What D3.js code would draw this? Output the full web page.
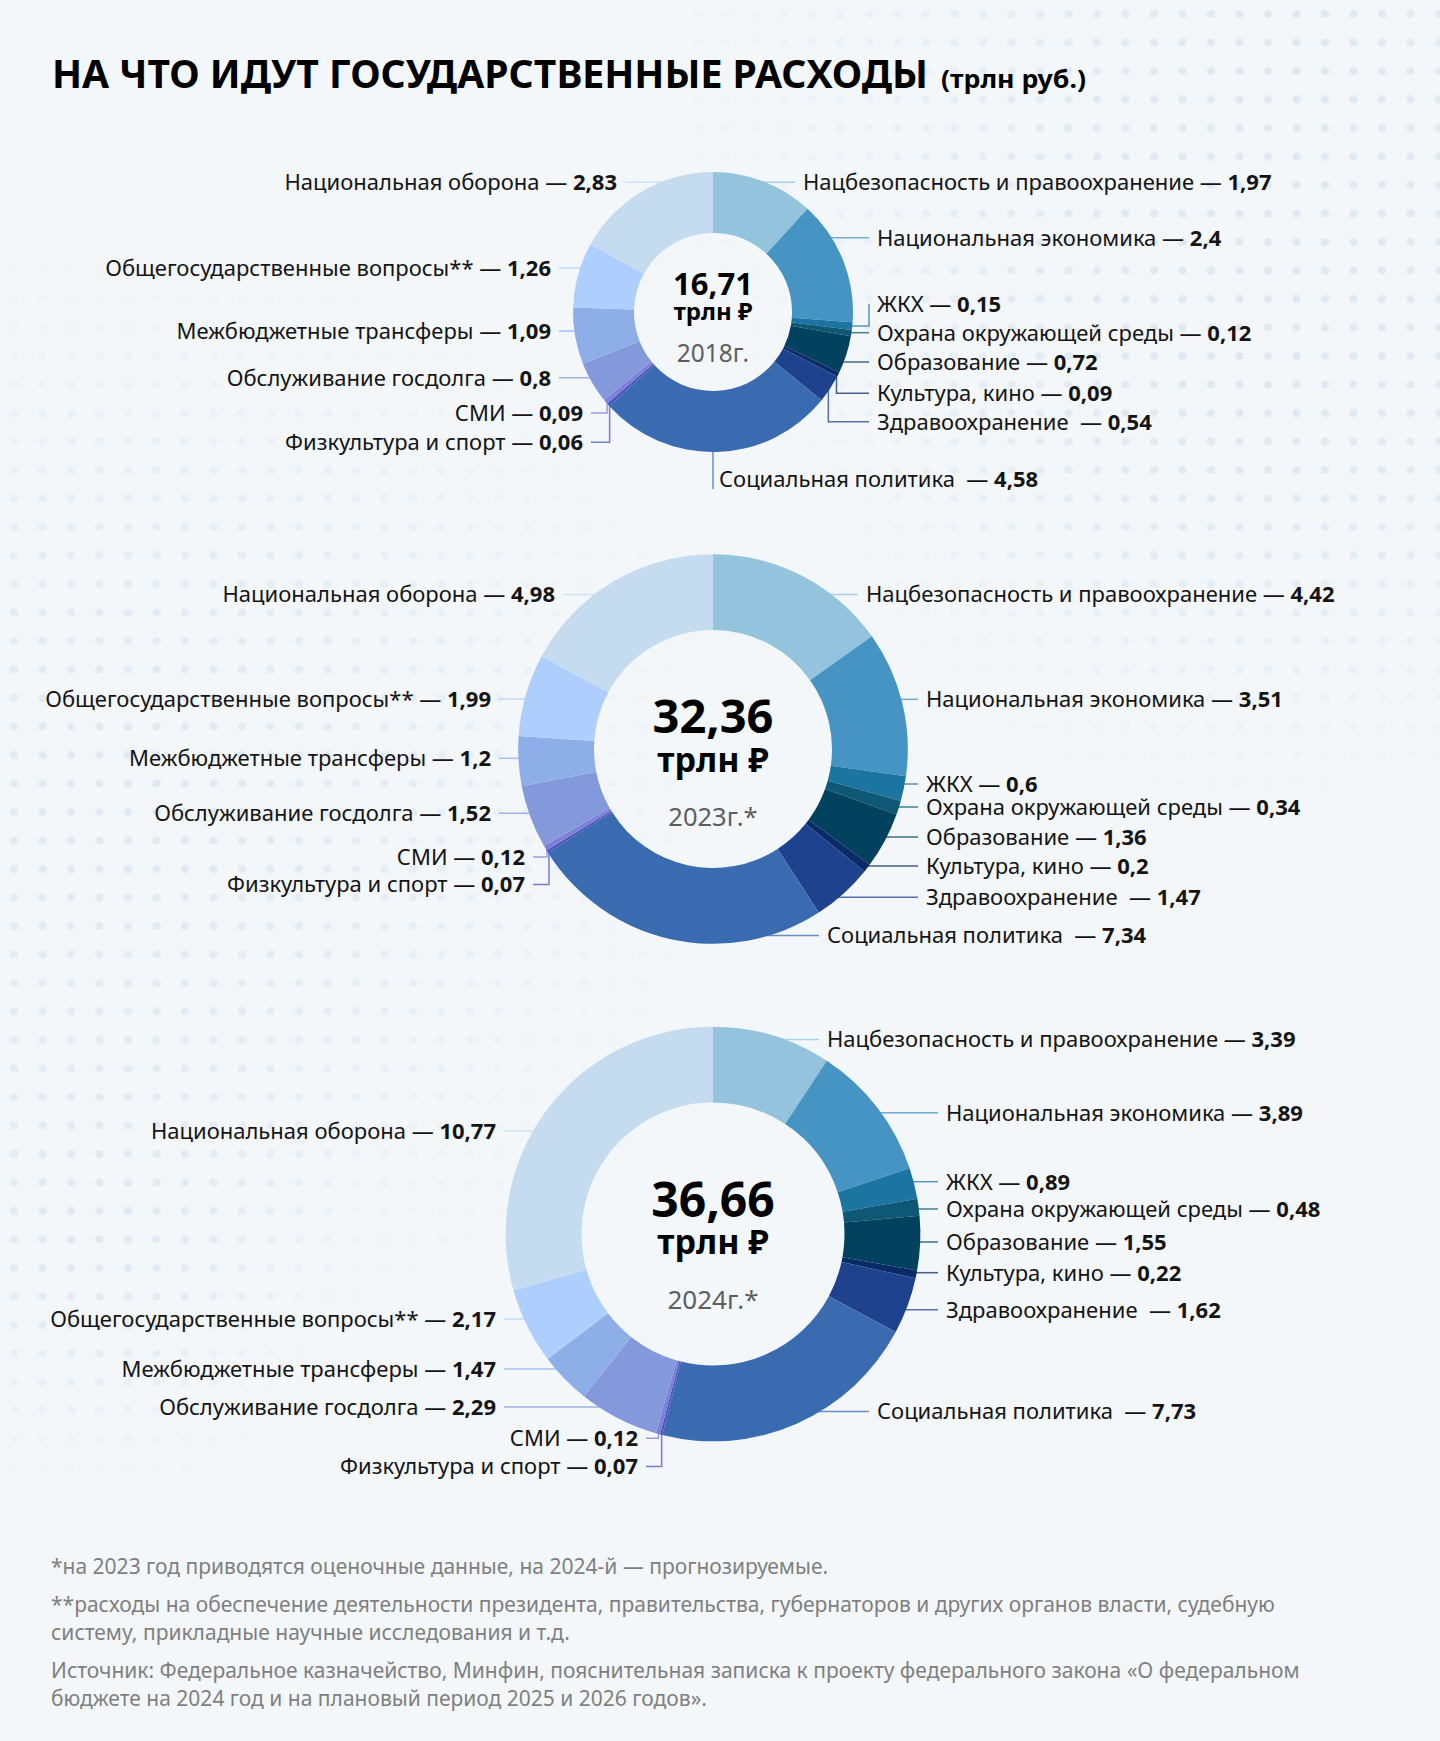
<!DOCTYPE html>
<html><head><meta charset="utf-8">
<script src="https://cdn.jsdelivr.net/npm/d3@7"></script>
<style>
html,body{margin:0;padding:0;background:#f3f7fa;}
svg{display:block;font-family:"Noto Sans","Open Sans",sans-serif;}
text{white-space:pre;}
</style></head><body>
<svg id="chart" width="1440" height="1741"></svg>
<script>
// ---------- DATA ----------
const categories = [
  "Нацбезопасность и правоохранение",
  "Национальная экономика",
  "ЖКХ",
  "Охрана окружающей среды",
  "Образование",
  "Культура, кино",
  "Здравоохранение ",
  "Социальная политика ",
  "Физкультура и спорт",
  "СМИ",
  "Обслуживание госдолга",
  "Межбюджетные трансферы",
  "Общегосударственные вопросы**",
  "Национальная оборона"
];
const values2018 = [1.97, 2.4, 0.15, 0.12, 0.72, 0.09, 0.54, 4.58, 0.06, 0.09, 0.8, 1.09, 1.26, 2.83];
const values2023 = [4.42, 3.51, 0.6, 0.34, 1.36, 0.2, 1.47, 7.34, 0.07, 0.12, 1.52, 1.2, 1.99, 4.98];
const values2024 = [3.39, 3.89, 0.89, 0.48, 1.55, 0.22, 1.62, 7.73, 0.07, 0.12, 2.29, 1.47, 2.17, 10.77];
const totals = [16.71, 32.36, 36.66];
const totalLabels = ["16,71", "32,36", "36,66"];
const yearLabels = ["2018г.", "2023г.*", "2024г.*"];
const unitLabel = "трлн ₽";
const colors = ["#94c4dd","#4594c4","#1c74a1","#0e5775","#02425e","#0a2b66","#1f428e",
                "#3a6bb1","#4b55c0","#7c80d6","#8499dc","#8eaee8","#aecffd","#c5dcf0"];
const titleMain = "НА ЧТО ИДУТ ГОСУДАРСТВЕННЫЕ РАСХОДЫ";
const titleUnit = "(трлн руб.)";
const footnotes = [
  ["*на 2023 год приводятся оценочные данные, на 2024-й — прогнозируемые."],
  ["**расходы на обеспечение деятельности президента, правительства, губернаторов и других органов власти, судебную",
   "систему, прикладные научные исследования и т.д."],
  ["Источник: Федеральное казначейство, Минфин, пояснительная записка к проекту федерального закона «О федеральном",
   "бюджете на 2024 год и на плановый период 2025 и 2026 годов»."]
];

// ---------- LAYOUT ----------
const W = 1440, H = 1741;
const charts = [
  { values: values2018, cx: 713, cy: 312, inner: 79,
    center: { num: [31, 295], unit: [24, 320], year: [24.5, 362] },
    labels: [
      ["r",182.3,803,"h"],["r",237.7,877,"h"],["r",304,877,"hv"],["r",332.7,877,"h"],
      ["r",362,877,"h"],["r",393.3,877,"vh"],["r",421.7,877,"vh"],["r",479,719,"v"],
      ["l",442.3,583,"vh"],["l",413,583,"vh"],["l",377.7,551,"h"],["l",331,551,"h"],
      ["l",268,551,"h"],["l",182.3,617,"h"]] },
  { values: values2023, cx: 713, cy: 749, inner: 119,
    center: { num: [47, 733], unit: [34, 772], year: [25.5, 826] },
    labels: [
      ["r",594.5,866,"h"],["r",699.3,926,"h"],["r",784,926,"h"],["r",807,926,"h"],
      ["r",837,926,"h"],["r",866,926,"h"],["r",897.3,926,"h"],["r",935.5,827,"h"],
      ["l",884.5,525,"vh"],["l",857,525,"vh"],["l",813.3,491,"h"],["l",758.3,491,"h"],
      ["l",699,491,"h"],["l",594.5,555,"h"]] },
  { values: values2024, cx: 713, cy: 1234, inner: 131.5,
    center: { num: [48, 1217], unit: [34, 1254], year: [26, 1309] },
    labels: [
      ["r",1039.5,827,"h"],["r",1112.7,946,"h"],["r",1181.7,946,"h"],["r",1209,946,"h"],
      ["r",1242,946,"h"],["r",1272.7,946,"h"],["r",1309.8,946,"h"],["r",1411.5,877,"h"],
      ["l",1466.5,638,"vh"],["l",1438.3,638,"vh"],["l",1407,496,"h"],["l",1369,496,"h"],
      ["l",1319,496,"h"],["l",1131,496,"h"]] }
];

const svg = d3.select("#chart");
const defs = svg.append("defs");

// background with faint dot grid
svg.append("rect").attr("width", W).attr("height", H).attr("fill", "#f3f7fa");
const pat = defs.append("pattern").attr("id","dots").attr("patternUnits","userSpaceOnUse")
  .attr("width",28.5).attr("height",28.5).attr("x",0).attr("y",0);
pat.append("circle").attr("cx",14).attr("cy",14).attr("r",4).attr("fill","#dfe8f2");
const gspots = [[1300,60,640],[150,800,560],[1250,380,430],[100,1230,260]];
const mask = defs.append("mask").attr("id","dmask");
gspots.forEach((g,i)=>{
  const rg = defs.append("radialGradient").attr("id","rg"+i);
  rg.append("stop").attr("offset","0%").attr("stop-color","#fff").attr("stop-opacity",1);
  rg.append("stop").attr("offset","45%").attr("stop-color","#fff").attr("stop-opacity",0.7);
  rg.append("stop").attr("offset","100%").attr("stop-color","#fff").attr("stop-opacity",0);
  mask.append("circle").attr("cx",g[0]).attr("cy",g[1]).attr("r",g[2]).attr("fill","url(#rg"+i+")");
});
svg.append("rect").attr("width",W).attr("height",H).attr("fill","url(#dots)").attr("mask","url(#dmask)");

// title
const title = svg.append("text").attr("x",52).attr("y",88).attr("fill","#000")
  .attr("font-weight",700);
title.append("tspan").attr("font-size",40).text(titleMain)
  .attr("textLength",876).attr("lengthAdjust","spacingAndGlyphs");
title.append("tspan").attr("x",941).attr("font-size",25).text(titleUnit)
  .attr("textLength",145).attr("lengthAdjust","spacingAndGlyphs");

const rScale = d3.scaleSqrt().domain([0, totals[0]]).range([0, 140]);
const pie = d3.pie().sort(null).value(d => d);
const fmt = v => String(v).replace(".", ",");
const LABEL_SIZE = 22, GAP = 8;

charts.forEach((c, ci) => {
  const outer = rScale(totals[ci]);
  const arcs = pie(c.values);
  const arc = d3.arc().innerRadius(c.inner).outerRadius(outer);
  const g = svg.append("g");
  const pt = (a, r) => [c.cx + r * Math.sin(a), c.cy - r * Math.cos(a)];

  // leaders
  const lg = g.append("g").attr("fill","none").attr("stroke-width",1.5);
  arcs.forEach((a, i) => {
    const [side, y, tx, mode] = c.labels[i];
    const sgn = side === "r" ? 1 : -1;
    const endX = tx - sgn * GAP;
    const mid = (a.startAngle + a.endAngle) / 2;
    let d;
    if (mode === "h") {
      const dx = Math.sqrt(Math.max(0, outer*outer - (y - c.cy)*(y - c.cy)));
      d = `M${c.cx + sgn*(dx-3)},${y}H${endX}`;
    } else if (mode === "vh") {
      const [ax, ay] = pt(mid, outer - 2);
      d = `M${ax},${ay}V${y}H${endX}`;
    } else if (mode === "hv") {
      const [ax, ay] = pt(mid, outer - 2);
      d = `M${ax},${ay}H${endX}V${y}`;
    } else {
      const [ax, ay] = pt(Math.PI, outer - 2);
      d = `M${ax},${ay}V${y + 10}`;
    }
    lg.append("path").attr("d", d).attr("stroke", colors[i]).attr("stroke-opacity", 0.75);
  });

  // slices
  g.append("g").attr("transform", `translate(${c.cx},${c.cy})`)
    .selectAll("path").data(arcs).join("path")
    .attr("d", arc).attr("fill", (d, i) => colors[i]);

  // labels
  arcs.forEach((a, i) => {
    const [side, y, tx] = c.labels[i];
    const t = g.append("text").attr("x", tx).attr("y", y).attr("dy", "0.36em")
      .attr("font-size", LABEL_SIZE).attr("fill", "#141414")
      .attr("text-anchor", side === "r" ? "start" : "end");
    t.append("tspan").text(categories[i] + " — ");
    t.append("tspan").attr("font-weight", 700).text(fmt(c.values[i]));
  });

  // center: total + unit as one two-line text, year below
  const ct = g.append("text").attr("text-anchor","middle").attr("font-weight",700).attr("fill","#000");
  ct.append("tspan").attr("x", c.cx).attr("y", c.center.num[1]).attr("font-size", c.center.num[0])
    .text(totalLabels[ci]);
  ct.append("tspan").attr("x", c.cx).attr("y", c.center.unit[1]).attr("font-size", c.center.unit[0])
    .text(unitLabel);
  g.append("text").attr("text-anchor","middle").attr("x", c.cx).attr("y", c.center.year[1])
    .attr("font-size", c.center.year[0]).attr("fill","#5e5e5e").text(yearLabels[ci]);
});

// footnotes
const fy = [[1574],[1612,1640],[1678,1706]];
const fg = svg.append("g").attr("font-size",21).attr("fill","#7f7f7f");
footnotes.forEach((p, pi) => p.forEach((line, li) => {
  fg.append("text").attr("x",51).attr("y",fy[pi][li]).text(line);
}));
</script>
</body></html>
